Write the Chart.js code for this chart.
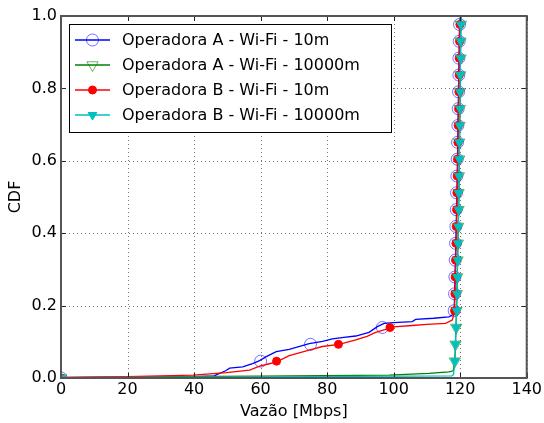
<!DOCTYPE html>
<html>
<head>
<meta charset="utf-8">
<script src="https://cdn.jsdelivr.net/npm/chart.js@4.4.1/dist/chart.umd.min.js"></script>
<style>
  body { margin: 0; background: #fff; }
  canvas { display: block; }
</style>
</head>
<body>
<canvas id="grafico" width="544" height="423"></canvas>
<script>
// eixos
const xTicks = [0, 20, 40, 60, 80, 100, 120, 140];
const yTicks = [0, 0.2, 0.4, 0.6, 0.8, 1.0];

// nomes das series
const labels = [
  'Operadora A - Wi-Fi - 10m',
  'Operadora A - Wi-Fi - 10000m',
  'Operadora B - Wi-Fi - 10m',
  'Operadora B - Wi-Fi - 10000m'
];

// curvas CDF (vazao em Mbps, prob. acumulada)
const aCurtaX = [0, 20, 40, 46, 47.5, 49.5, 50.7, 54.6, 57.6, 59.7, 61.7, 64.7, 68.6, 74.6, 78.6, 81.6, 85, 88.6, 92.6, 95.1, 97.1, 100, 105.6, 106.6, 112, 116.6, 117.6, 118.2, 119.0, 119.8, 120.1];
const aCurtaY = [0.001, 0.002, 0.004, 0.006, 0.012, 0.02, 0.027, 0.031, 0.04, 0.048, 0.059, 0.073, 0.079, 0.095, 0.101, 0.108, 0.112, 0.116, 0.126, 0.142, 0.151, 0.153, 0.156, 0.162, 0.165, 0.169, 0.174, 0.186, 0.5, 0.977, 1.0];

const aLongaX = [0, 20, 60, 98.6, 110.6, 116.6, 117.9, 118.4, 118.9, 119.6, 120.2, 120.3];
const aLongaY = [0.001, 0.003, 0.005, 0.008, 0.013, 0.017, 0.02, 0.046, 0.186, 0.5, 0.977, 1.0];

const bCurtaX = [0, 20, 39.7, 49.7, 56.7, 59.7, 62, 64.7, 68.6, 74.6, 78.6, 83.6, 88.6, 92, 94.6, 98.6, 100, 105.6, 110, 115.6, 117.6, 118.1, 118.3, 119.1, 119.9, 120.2];
const bCurtaY = [0.002, 0.004, 0.008, 0.015, 0.022, 0.033, 0.038, 0.044, 0.062, 0.077, 0.087, 0.093, 0.105, 0.115, 0.126, 0.137, 0.141, 0.145, 0.148, 0.151, 0.16, 0.175, 0.186, 0.5, 0.977, 1.0];

const bLongaX = [0, 60, 117.5, 118.0, 118.4, 118.9, 119.6, 120.2, 120.3];
const bLongaY = [0.001, 0.003, 0.006, 0.01, 0.046, 0.186, 0.5, 0.977, 1.0];

// marcadores (mesmos niveis de probabilidade para todas)
const marcaY = [0, 0.0465, 0.093, 0.1395, 0.186, 0.2325, 0.279, 0.3255, 0.372, 0.4185, 0.465, 0.5115, 0.558, 0.6045, 0.651, 0.6975, 0.744, 0.7905, 0.837, 0.8835, 0.93, 0.9765];
const aCurtaMarcaX = [0, 60, 75, 96.6, 118.2, 118.3, 118.4, 118.5, 118.6, 118.7, 118.8, 118.9, 119.0, 119.1, 119.2, 119.3, 119.4, 119.5, 119.6, 119.6, 119.7, 119.8];
const aLongaMarcaX = [0, 118.4, 118.6, 118.8, 118.9, 119.0, 119.1, 119.2, 119.3, 119.4, 119.5, 119.5, 119.6, 119.7, 119.7, 119.8, 119.9, 119.9, 120.0, 120.1, 120.1, 120.2];
const bCurtaMarcaX = [0, 64.8, 83.4, 98.9, 118.3, 118.4, 118.5, 118.6, 118.7, 118.8, 118.9, 119.0, 119.1, 119.2, 119.3, 119.4, 119.5, 119.6, 119.7, 119.7, 119.8, 119.9];
const bLongaMarcaX = [0, 118.4, 118.6, 118.8, 118.9, 119.0, 119.1, 119.2, 119.3, 119.4, 119.5, 119.5, 119.6, 119.7, 119.7, 119.8, 119.9, 119.9, 120.0, 120.1, 120.1, 120.2];

const fonte = 'DejaVu Sans';

function pontos(xs, ys) {
  return xs.map((x, i) => ({ x: x, y: ys[i] }));
}

// estilo de cada serie (linha + marcador)
const estilos = [
  { cor: '#0000ff', ponto: 'circle', raio: 6, rot: 0, borda: 'rgba(0,0,255,0.55)', fundo: 'rgba(0,0,0,0)' },
  { cor: '#008000', ponto: 'triangle', raio: 6.5, rot: 180, borda: 'rgba(0,128,0,0.6)', fundo: 'rgba(0,0,0,0)' },
  { cor: '#ff0000', ponto: 'circle', raio: 4, rot: 0, borda: '#ff0000', fundo: '#ff0000' },
  { cor: '#00bfbf', ponto: 'triangle', raio: 5, rot: 180, borda: '#00bfbf', fundo: '#00bfbf' }
];

const linhas = [[aCurtaX, aCurtaY], [aLongaX, aLongaY], [bCurtaX, bCurtaY], [bLongaX, bLongaY]];
const marcas = [aCurtaMarcaX, aLongaMarcaX, bCurtaMarcaX, bLongaMarcaX];

let datasets = [];
for (let i = 0; i < 4; i++) {
  let e = estilos[i];
  datasets.push({
    label: labels[i],
    data: pontos(linhas[i][0], linhas[i][1]),
    showLine: true,
    borderColor: e.cor,
    borderWidth: 1.3,
    pointRadius: 0,
    tension: 0,
    clip: 0,
    order: 7 - 2 * i
  });
  datasets.push({
    label: labels[i] + ' (marcas)',
    data: pontos(marcas[i], marcaY),
    showLine: false,
    pointStyle: e.ponto,
    pointRadius: e.raio,
    pointRotation: e.rot,
    pointBorderColor: e.borda,
    pointBackgroundColor: e.fundo,
    pointBorderWidth: 1,
    clip: 0,
    order: 6 - 2 * i
  });
}

// grade pontilhada, moldura, ticks para dentro e legenda estilo matplotlib
const moldura = {
  id: 'moldura',
  beforeDatasetsDraw(chart) {
    const ctx = chart.ctx;
    const a = chart.chartArea;
    const sx = chart.scales.x, sy = chart.scales.y;
    ctx.save();
    ctx.strokeStyle = '#777';
    ctx.lineWidth = 1;
    ctx.setLineDash([1, 3]);
    ctx.beginPath();
    xTicks.forEach(v => {
      let p = Math.round(sx.getPixelForValue(v)) + 0.5;
      ctx.moveTo(p, a.top); ctx.lineTo(p, a.bottom);
    });
    yTicks.forEach(v => {
      let p = Math.round(sy.getPixelForValue(v)) + 0.5;
      ctx.moveTo(a.left, p); ctx.lineTo(a.right, p);
    });
    ctx.stroke();
    ctx.restore();
  },
  afterDatasetsDraw(chart) {
    const ctx = chart.ctx;
    const a = chart.chartArea;
    const sx = chart.scales.x, sy = chart.scales.y;
    ctx.save();
    ctx.strokeStyle = '#222';
    ctx.lineWidth = 1;
    ctx.beginPath();
    xTicks.forEach(v => {
      let p = Math.round(sx.getPixelForValue(v)) + 0.5;
      ctx.moveTo(p, a.top); ctx.lineTo(p, a.top + 5);
      ctx.moveTo(p, a.bottom); ctx.lineTo(p, a.bottom - 5);
    });
    yTicks.forEach(v => {
      let p = Math.round(sy.getPixelForValue(v)) + 0.5;
      ctx.moveTo(a.left, p); ctx.lineTo(a.left + 5, p);
      ctx.moveTo(a.right, p); ctx.lineTo(a.right - 5, p);
    });
    ctx.stroke();
    ctx.strokeStyle = '#555';
    ctx.lineWidth = 2;
    ctx.strokeRect(a.left, a.top, a.right - a.left, a.bottom - a.top);
    ctx.restore();
  },
  afterDraw(chart) {
    const ctx = chart.ctx;
    ctx.save();
    ctx.fillStyle = '#fff';
    ctx.fillRect(69.5, 24.5, 322, 108);
    ctx.strokeStyle = '#000';
    ctx.lineWidth = 1;
    ctx.strokeRect(69.5, 24.5, 322, 108);
    ctx.font = '16px "' + fonte + '"';
    ctx.textBaseline = 'middle';
    ctx.textAlign = 'left';
    for (let i = 0; i < 4; i++) {
      let e = estilos[i];
      let y = 40 + i * 25;
      ctx.strokeStyle = e.cor;
      ctx.lineWidth = 1.3;
      ctx.beginPath();
      ctx.moveTo(75, y); ctx.lineTo(110, y);
      ctx.stroke();
      ctx.strokeStyle = e.borda;
      ctx.fillStyle = e.fundo;
      ctx.lineWidth = 1;
      Chart.helpers.drawPoint(ctx, { pointStyle: e.ponto, radius: e.raio, rotation: e.rot, borderWidth: 1 }, 92.5, y);
      ctx.fillStyle = '#000';
      ctx.fillText(labels[i], 122, y + 1);
    }
    ctx.restore();
  }
};

const ctx = document.getElementById('grafico').getContext('2d');
const grafico = new Chart(ctx, {
  type: 'scatter',
  data: { datasets: datasets },
  plugins: [moldura],
  options: {
    responsive: false,
    animation: false,
    layout: { padding: { top: 16, right: 16, left: 0, bottom: 0 } },
    plugins: {
      legend: { display: false },
      tooltip: { enabled: false }
    },
    scales: {
      x: {
        type: 'linear',
        min: 0,
        max: 140,
        afterFit: (s) => { s.height = 45; },
        afterBuildTicks: (s) => { s.ticks = xTicks.map(v => ({ value: v })); },
        ticks: {
          color: '#000',
          font: { family: fonte, size: 16 },
          padding: 2,
          callback: (v) => String(v)
        },
        grid: { display: false, drawTicks: false },
        border: { display: false },
        title: {
          display: true,
          text: 'Vazão [Mbps]',
          color: '#000',
          font: { family: fonte, size: 16 },
          padding: { top: 0, bottom: 2 }
        }
      },
      y: {
        type: 'linear',
        min: 0,
        max: 1,
        afterFit: (s) => { s.width = 61; },
        afterBuildTicks: (s) => { s.ticks = yTicks.map(v => ({ value: v })); },
        ticks: {
          color: '#000',
          font: { family: fonte, size: 16 },
          padding: 4,
          callback: (v) => v.toFixed(1)
        },
        grid: { display: false, drawTicks: false },
        border: { display: false },
        title: {
          display: true,
          text: 'CDF',
          color: '#000',
          font: { family: fonte, size: 16 },
          padding: { top: 6, bottom: 0 }
        }
      }
    }
  }
});
</script>
</body>
</html>
